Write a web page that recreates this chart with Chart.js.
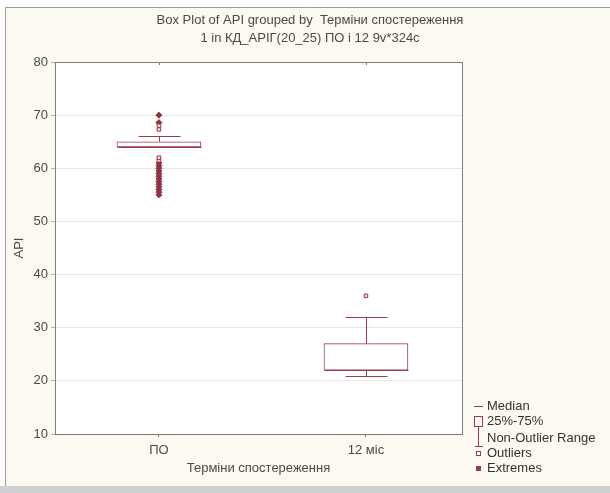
<!DOCTYPE html>
<html>
<head>
<meta charset="utf-8">
<script src="https://cdn.jsdelivr.net/npm/chart.js@4/dist/chart.umd.min.js"></script>
<style>
  html, body { margin: 0; padding: 0; background: #ffffff; }
  #wrap { width: 610px; height: 493px; position: relative; }
</style>
</head>
<body>
<div id="wrap"><canvas id="c" width="610" height="493"></canvas></div>
<script>
// Groups on the x axis (positions 1 and 2)
const categories = ['ПО', '12 міс'];
const positions = [1, 2];

// Box statistics per group
const q1Values = [64, 22];
const q3Values = [65, 27];
const medianValues = [64, 22];
const whiskerLow = [64, 21];
const whiskerHigh = [66, 32];

// Points outside the non-outlier range
const outliersPO = [67.3, 68.0, 61.5, 62.0];
const extremesPO = [68.6, 70, 61, 60.5, 60, 59.5, 59, 58.5, 58, 57.5, 57, 56.5, 56, 55.5, 55];
const outliers12 = [36];
const extremes12 = [];

const yTicks = [10, 20, 30, 40, 50, 60, 70, 80];
const titleLines = ['Box Plot of API grouped by  Терміни спостереження', '1 in КД_АРІГ(20_25) ПО і 12 9v*324c'];
const xTitle = 'Терміни спостереження';
const yTitle = 'АРІ';
const legendLabels = ['Median', '25%-75%', 'Non-Outlier Range', 'Outliers', 'Extremes'];

const BOX = '#9c3b4c';
const FONT = '"Liberation Sans", Arial, sans-serif';
const FS = 13;
const TXT = '#4a4a4a';

const boxData = positions.map((x, i) => ({ x: x, y: [q1Values[i], q3Values[i]] }));
const outlierData = outliersPO.map(v => ({ x: 1, y: v })).concat(outliers12.map(v => ({ x: 2, y: v })));
const extremeData = extremesPO.map(v => ({ x: 1, y: v })).concat(extremes12.map(v => ({ x: 2, y: v })));

// Page background, window edges, plot frame, two-line heading
const backdrop = {
  id: 'backdrop',
  beforeDraw(chart) {
    const ctx = chart.ctx, a = chart.chartArea;
    ctx.save();
    ctx.fillStyle = '#ffffff';
    ctx.fillRect(0, 0, chart.width, chart.height);
    ctx.fillStyle = '#fcf9f1';
    ctx.fillRect(5, 7, chart.width - 5, 479);
    ctx.strokeStyle = '#9a9a9a';
    ctx.lineWidth = 1;
    ctx.beginPath();
    ctx.moveTo(5.5, chart.height - 7);
    ctx.lineTo(5.5, 7.5);
    ctx.lineTo(chart.width, 7.5);
    ctx.stroke();
    ctx.fillStyle = '#cfd0d2';
    ctx.fillRect(0, 486, chart.width, 7);
    ctx.fillStyle = '#ffffff';
    ctx.fillRect(a.left, a.top, a.right - a.left, a.bottom - a.top);
    ctx.restore();
  },
  afterDraw(chart) {
    const ctx = chart.ctx, a = chart.chartArea;
    ctx.save();
    ctx.strokeStyle = '#7c7c7c';
    ctx.lineWidth = 1;
    ctx.strokeRect(Math.round(a.left) + 0.5, Math.round(a.top) + 0.5,
                   Math.round(a.right - a.left), Math.round(a.bottom - a.top));
    // small tick marks along the top edge at the group positions
    const xs = chart.scales.x;
    positions.forEach(p => {
      const px = Math.round(xs.getPixelForValue(p)) + 0.5;
      ctx.beginPath();
      ctx.moveTo(px, a.top);
      ctx.lineTo(px, a.top + 3);
      ctx.stroke();
    });
    // heading
    ctx.font = FS + 'px ' + FONT;
    ctx.fillStyle = TXT;
    ctx.textAlign = 'center';
    ctx.textBaseline = 'middle';
    ctx.fillText(titleLines[0], 310, 20);
    ctx.fillText(titleLines[1], 310, 38);
    ctx.restore();
  }
};

// Whiskers, caps and median lines, placed through the chart scales
const whiskers = {
  id: 'whiskers',
  afterDatasetsDraw(chart) {
    const ctx = chart.ctx, xs = chart.scales.x, ys = chart.scales.y;
    const halfBox = 42, halfCap = 21;
    ctx.save();
    ctx.strokeStyle = BOX;
    ctx.lineWidth = 1;
    positions.forEach((p, i) => {
      const x = Math.round(xs.getPixelForValue(p)) + 0.5;
      const yHi = Math.round(ys.getPixelForValue(whiskerHigh[i])) + 0.5;
      const yQ3 = ys.getPixelForValue(q3Values[i]);
      const yQ1 = ys.getPixelForValue(q1Values[i]);
      const yLo = Math.round(ys.getPixelForValue(whiskerLow[i])) + 0.5;
      const yMed = Math.round(ys.getPixelForValue(medianValues[i])) + 0.5;
      ctx.beginPath();
      if (whiskerHigh[i] > q3Values[i]) {
        ctx.moveTo(x, yHi); ctx.lineTo(x, yQ3);
        ctx.moveTo(x - halfCap, yHi); ctx.lineTo(x + halfCap, yHi);
      }
      if (whiskerLow[i] < q1Values[i]) {
        ctx.moveTo(x, yQ1); ctx.lineTo(x, yLo);
        ctx.moveTo(x - halfCap, yLo); ctx.lineTo(x + halfCap, yLo);
      }
      ctx.moveTo(x - halfBox, yMed); ctx.lineTo(x + halfBox, yMed);
      ctx.stroke();
    });
    ctx.restore();
  }
};

// Legend for the box plot symbols
const boxLegend = {
  id: 'boxLegend',
  afterDraw(chart) {
    const ctx = chart.ctx;
    const tx = 487;
    const rows = [406, 421, 438, 453, 468];
    ctx.save();
    ctx.font = FS + 'px ' + FONT;
    ctx.fillStyle = '#333333';
    ctx.textBaseline = 'middle';
    ctx.textAlign = 'left';
    legendLabels.forEach((t, i) => ctx.fillText(t, tx, rows[i]));
    ctx.strokeStyle = BOX;
    ctx.lineWidth = 1;
    ctx.beginPath();
    // median dash
    ctx.moveTo(474, rows[0] + 0.5); ctx.lineTo(483, rows[0] + 0.5);
    ctx.stroke();
    // box
    ctx.strokeRect(474.5, 416.5, 8, 10);
    // non-outlier range
    ctx.beginPath();
    ctx.moveTo(478.5, 427); ctx.lineTo(478.5, 446);
    ctx.moveTo(475, 446.5); ctx.lineTo(483, 446.5);
    ctx.stroke();
    // outlier square
    ctx.strokeRect(476.5, rows[3] - 1.5, 4, 4);
    // extreme mark
    ctx.fillStyle = BOX;
    ctx.fillRect(476, rows[4] - 2, 5, 5);
    ctx.restore();
  }
};

new Chart(document.getElementById('c'), {
  data: {
    datasets: [
      {
        type: 'bar',
        label: '25%-75%',
        data: boxData,
        backgroundColor: '#ffffff',
        borderColor: BOX,
        borderWidth: 1,
        borderSkipped: false,
        barThickness: 84
      },
      {
        type: 'scatter',
        label: 'Outliers',
        data: outlierData,
        pointStyle: 'rect',
        pointRadius: 2.5,
        pointBackgroundColor: '#f3d8dc',
        pointBorderColor: BOX,
        pointBorderWidth: 1
      },
      {
        type: 'scatter',
        label: 'Extremes',
        data: extremeData,
        pointStyle: 'rectRot',
        pointRadius: 3,
        pointBackgroundColor: '#8a3545',
        pointBorderColor: '#8a3545',
        pointBorderWidth: 1
      }
    ]
  },
  options: {
    responsive: false,
    animation: false,
    devicePixelRatio: 1,
    layout: { padding: { left: 0, right: 148, top: 62, bottom: 12 } },
    plugins: {
      legend: { display: false },
      tooltip: { enabled: false },
      title: { display: false }
    },
    scales: {
      x: {
        type: 'linear',
        offset: false,
        min: 0.498,
        max: 2.464,
        afterBuildTicks(scale) { scale.ticks = positions.map(v => ({ value: v })); },
        afterFit(scale) { scale.height = 47; },
        ticks: {
          color: TXT,
          font: { family: FONT, size: FS },
          padding: 6,
          maxRotation: 0,
          callback: (v) => categories[positions.indexOf(v)] || ''
        },
        grid: { offset: false, drawOnChartArea: false, drawTicks: true, tickLength: 3, color: '#7c7c7c' },
        border: { display: false },
        title: {
          display: true,
          text: xTitle,
          color: TXT,
          font: { family: FONT, size: FS },
          padding: { top: 0, bottom: 5 }
        }
      },
      y: {
        type: 'linear',
        min: 10,
        max: 80,
        afterBuildTicks(scale) { scale.ticks = yTicks.map(v => ({ value: v })); },
        afterFit(scale) { scale.width = 55; },
        ticks: {
          color: TXT,
          font: { family: FONT, size: FS },
          padding: 3
        },
        grid: { color: '#e6e6e6', tickLength: 4, tickColor: '#b5b5b5', drawTicks: true },
        border: { display: false },
        title: {
          display: true,
          text: yTitle,
          color: TXT,
          font: { family: FONT, size: FS },
          padding: { top: 12, bottom: 0 }
        }
      }
    }
  },
  plugins: [backdrop, whiskers, boxLegend]
});
</script>
</body>
</html>
